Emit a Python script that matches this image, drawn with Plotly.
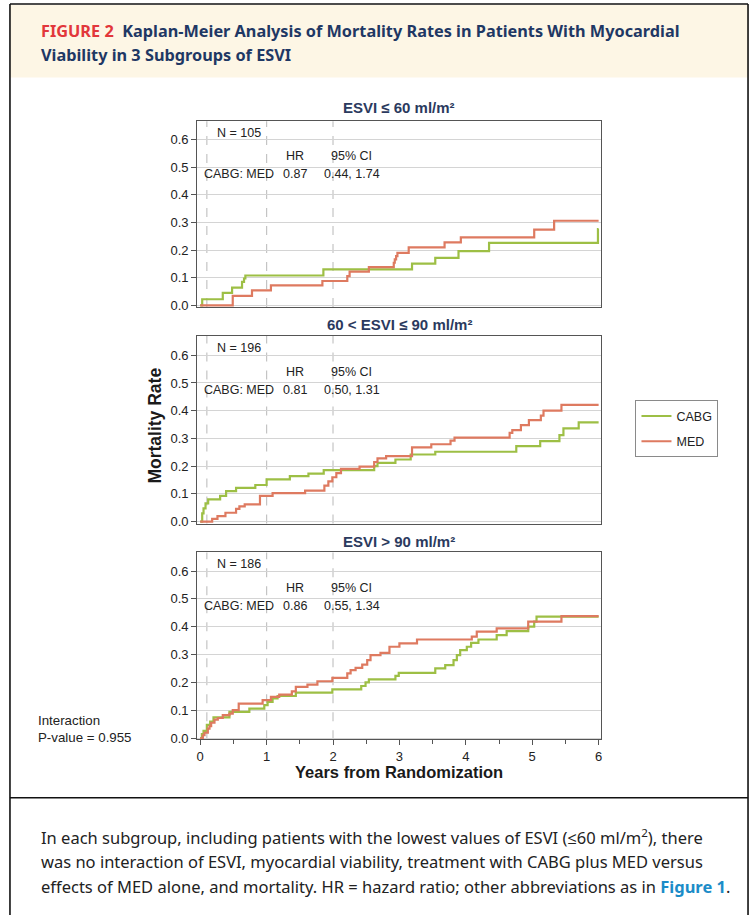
import plotly.graph_objects as go

W, H = 756, 921

# ---------------- data ----------------
panel_titles = ["ESVI \u2264 60 ml/m\u00b2", "60 < ESVI \u2264 90 ml/m\u00b2", "ESVI > 90 ml/m\u00b2"]
panel_n = ["N = 105", "N = 196", "N = 186"]
panel_hr = ["0.87", "0.81", "0.86"]
panel_ci = ["0.44, 1.74", "0.50, 1.31", "0.55, 1.34"]

cabg1_t = [0, 0.03, 0.34, 0.48, 0.63, 0.66, 0.68, 1.855, 3.19, 3.54, 3.89, 4.35, 5.99, 6.0]
cabg1_y = [0, 0.022, 0.045, 0.064, 0.085, 0.097, 0.108, 0.13, 0.151, 0.172, 0.196, 0.226, 0.276, 0.276]
med1_t = [0, 0.49, 0.78, 1.065, 1.84, 2.215, 2.25, 2.54, 2.915, 2.93, 2.95, 2.97, 3.14, 3.68, 3.925, 5.03, 5.33, 6.0]
med1_y = [0, 0.034, 0.054, 0.072, 0.088, 0.106, 0.122, 0.138, 0.154, 0.166, 0.178, 0.19, 0.21, 0.228, 0.246, 0.274, 0.306, 0.306]

cabg2_t = [0, 0.03, 0.05, 0.08, 0.12, 0.3, 0.39, 0.54, 0.83, 1.0, 1.35, 1.63, 1.86, 2.62, 2.67, 2.94, 3.17, 3.54, 4.76, 5.12, 5.41, 5.47, 5.7, 6.0]
cabg2_y = [0, 0.03, 0.048, 0.066, 0.08, 0.093, 0.11, 0.122, 0.132, 0.152, 0.164, 0.173, 0.186, 0.2, 0.212, 0.224, 0.242, 0.252, 0.272, 0.29, 0.312, 0.336, 0.358, 0.358]
med2_t = [0, 0.18, 0.26, 0.38, 0.54, 0.59, 0.67, 0.9, 1.09, 1.58, 1.87, 1.93, 1.99, 2.05, 2.12, 2.4, 2.62, 2.67, 2.8, 3.19, 3.48, 3.77, 3.83, 4.66, 4.7, 4.83, 4.95, 5.13, 5.17, 5.44, 6.0]
med2_y = [0, 0.01, 0.02, 0.032, 0.046, 0.055, 0.062, 0.093, 0.103, 0.112, 0.13, 0.145, 0.16, 0.175, 0.19, 0.198, 0.215, 0.228, 0.236, 0.268, 0.279, 0.292, 0.303, 0.32, 0.33, 0.348, 0.366, 0.382, 0.4, 0.421, 0.421]

cabg3_t = [0, 0.025, 0.05, 0.1, 0.15, 0.2, 0.44, 0.74, 0.965, 1.015, 1.09, 1.165, 1.44, 1.99, 2.425, 2.49, 2.54, 2.94, 2.99, 3.54, 3.69, 3.815, 3.865, 3.915, 4.015, 4.08, 4.19, 4.465, 4.615, 4.94, 5.03, 5.065, 6.0]
cabg3_y = [0, 0.014, 0.026, 0.047, 0.059, 0.074, 0.094, 0.106, 0.118, 0.13, 0.142, 0.151, 0.163, 0.175, 0.187, 0.2, 0.211, 0.223, 0.234, 0.25, 0.262, 0.28, 0.298, 0.316, 0.328, 0.342, 0.354, 0.37, 0.384, 0.4, 0.418, 0.436, 0.436]
med3_t = [0, 0.04, 0.065, 0.115, 0.14, 0.165, 0.215, 0.265, 0.34, 0.44, 0.49, 0.58, 0.94, 1.065, 1.19, 1.38, 1.44, 1.615, 1.765, 1.99, 2.215, 2.265, 2.34, 2.44, 2.515, 2.565, 2.715, 2.85, 3.0, 3.265, 4.09, 4.165, 4.465, 4.94, 5.44, 6.0]
med3_y = [0, 0.01, 0.019, 0.034, 0.043, 0.055, 0.066, 0.072, 0.082, 0.088, 0.1, 0.124, 0.136, 0.148, 0.156, 0.168, 0.184, 0.192, 0.204, 0.216, 0.232, 0.244, 0.252, 0.264, 0.28, 0.298, 0.306, 0.328, 0.34, 0.354, 0.364, 0.382, 0.394, 0.418, 0.438, 0.438]

series = [
    (cabg1_t, cabg1_y, med1_t, med1_y),
    (cabg2_t, cabg2_y, med2_t, med2_y),
    (cabg3_t, cabg3_y, med3_t, med3_y),
]
y_ticks = [0.0, 0.1, 0.2, 0.3, 0.4, 0.5, 0.6]
x_ticks = [0, 1, 2, 3, 4, 5, 6]
ref_lines = [0.1, 1, 2]

GREEN = "#9DBF45"
RED = "#DE7A60"
NAVY = "#2B3A5E"
TXT = "#222222"

# ---------------- layout geometry (pixels) ----------------
def px(x):
    return x / W

def py(y):
    return 1 - y / H

x_dom = [px(197), px(602)]
y_doms = [[py(309), py(122)], [py(527), py(338)], [py(744), py(556)]]
y_ranges = [[-0.006, 0.666], [-0.007, 0.670], [-0.004, 0.667]]
title_y = [108, 327, 545]

fig = go.Figure()
for i, (ct, cy, mt, my) in enumerate(series):
    xa = "x" if i == 0 else f"x{i+1}"
    ya = "y" if i == 0 else f"y{i+1}"
    fig.add_trace(go.Scatter(x=ct, y=cy, mode="lines", line=dict(color=GREEN, width=2.2, shape="hv"),
                             name="CABG", legendgroup="cabg", showlegend=(i == 0), xaxis=xa, yaxis=ya))
    fig.add_trace(go.Scatter(x=mt, y=my, mode="lines", line=dict(color=RED, width=2.2, shape="hv"),
                             name="MED", legendgroup="med", showlegend=(i == 0), xaxis=xa, yaxis=ya))

layout = dict(
    width=W, height=H, margin=dict(l=0, r=0, t=0, b=0),
    paper_bgcolor="white", plot_bgcolor="white",
    font=dict(family="Liberation Sans, Arial, sans-serif", size=12, color=TXT),
    legend=dict(x=px(637), y=py(403), xanchor="left", yanchor="top",
                bordercolor="#8a8a8a", borderwidth=1, bgcolor="white",
                font=dict(size=12.5, color=TXT), tracegroupgap=6, itemwidth=30),
)
shapes = []
annotations = []


def note(text, x, y, xanchor="center", size=12.5, **kw):
    d = dict(text=text, x=x, y=y, xanchor=xanchor, yanchor="middle", showarrow=False,
             font=kw.pop("font", dict(size=size)))
    d.update(kw)
    return d


for i in range(3):
    sfx = "" if i == 0 else str(i + 1)
    layout["xaxis" + sfx] = dict(
        domain=x_dom, range=[-0.045, 6.03], anchor="y" + sfx,
        showline=True, mirror=True, linecolor="#555555", linewidth=1,
        showgrid=False, zeroline=False,
        tickvals=x_ticks, showticklabels=(i == 2),
        ticks="outside" if i == 2 else "", ticklen=5, tickcolor="#555555",
        minor=dict(dtick=0.5, ticks="outside" if i == 2 else "", ticklen=4, tickcolor="#555555", showgrid=False),
        tickfont=dict(size=13, color=TXT),
    )
    layout["yaxis" + sfx] = dict(
        domain=y_doms[i], range=y_ranges[i], anchor="x" + sfx,
        showline=True, mirror=True, linecolor="#555555", linewidth=1,
        showgrid=True, gridcolor="#d4d4d4", gridwidth=1, zeroline=False,
        tickvals=y_ticks, tickformat=".1f", ticks="outside", ticklen=5, tickcolor="#555555",
        tickfont=dict(size=13, color=TXT),
    )
    for rx in ref_lines:
        shapes.append(dict(type="line", xref="x" + sfx, yref="y" + sfx + " domain",
                           x0=rx, x1=rx, y0=0, y1=1, layer="below",
                           line=dict(color="#c4c4c4", width=1.2, dash="dash")))
    annotations.append(note("<b>" + panel_titles[i] + "</b>", px(400), py(title_y[i]),
                            xref="paper", yref="paper", font=dict(size=15, color=NAVY)))
    xr, yr = "x" + sfx, "y" + sfx
    annotations += [
        note(panel_n[i], 0.22, 0.625, "left", xref=xr, yref=yr),
        note("HR", 1.43, 0.54, xref=xr, yref=yr),
        note("95% CI", 2.28, 0.54, xref=xr, yref=yr),
        note("CABG: MED", 0.03, 0.476, "left", xref=xr, yref=yr),
        note(panel_hr[i], 1.43, 0.476, xref=xr, yref=yr),
        note(panel_ci[i], 2.28, 0.476, xref=xr, yref=yr),
    ]

# axis titles and interaction text
annotations.append(note("<b>Mortality Rate</b>", px(155), py(428), xref="paper", yref="paper",
                        textangle=-90, font=dict(size=17.5, color="#1a1a1a")))
annotations.append(note("<b>Years from Randomization</b>", px(400), py(777), xref="paper", yref="paper",
                        font=dict(size=16.5, color="#1a1a1a")))
annotations.append(note("Interaction", px(35), py(725), "left", xref="paper", yref="paper", font=dict(size=13.3)))
annotations.append(note("P-value = 0.955", px(35), py(742), "left", xref="paper", yref="paper", font=dict(size=13.3)))

# header band and frame
shapes.append(dict(type="rect", xref="paper", yref="paper", x0=px(9), x1=px(750), y0=py(78), y1=py(5),
                   fillcolor="#FDF6E5", line=dict(width=0), layer="below"))
for (x0, y0, x1, y1) in [(9, 4, 750, 4), (9, 4, 9, 921), (750, 4, 750, 921), (9, 803, 750, 803)]:
    shapes.append(dict(type="line", xref="paper", yref="paper", x0=px(x0), x1=px(x1), y0=py(y0), y1=py(y1),
                       line=dict(color="#111111", width=1.6)))

HF = "Noto Sans, Open Sans, sans-serif"
annotations.append(note(
    "<b><span style='color:#E2373B'>FIGURE 2</span>  Kaplan-Meier Analysis of Mortality Rates in Patients With Myocardial</b>",
    px(38), py(31), "left", xref="paper", yref="paper", font=dict(family=HF, size=16.3, color="#1F3864")))
annotations.append(note(
    "<b>Viability in 3 Subgroups of ESVI</b>",
    px(38), py(55), "left", xref="paper", yref="paper", font=dict(family=HF, size=16.3, color="#1F3864")))

caption = [
    "In each subgroup, including patients with the lowest values of ESVI (\u226460 ml/m<sup>2</sup>), there",
    "was no interaction of ESVI, myocardial viability, treatment with CABG plus MED versus",
    "effects of MED alone, and mortality. HR = hazard ratio; other abbreviations as in <b><span style='color:#1C8CC8'>Figure 1</span></b>.",
]
for k, line in enumerate(caption):
    annotations.append(note(line, px(38), py(842 + 25 * k), "left", xref="paper", yref="paper",
                            font=dict(family=HF, size=16.5, color="#222222")))

layout["shapes"] = shapes
layout["annotations"] = annotations
fig.update_layout(**layout)
fig.write_html("out.html", config={"displayModeBar": False},
               post_script="document.body.style.margin='0';document.body.style.overflow='hidden';")
